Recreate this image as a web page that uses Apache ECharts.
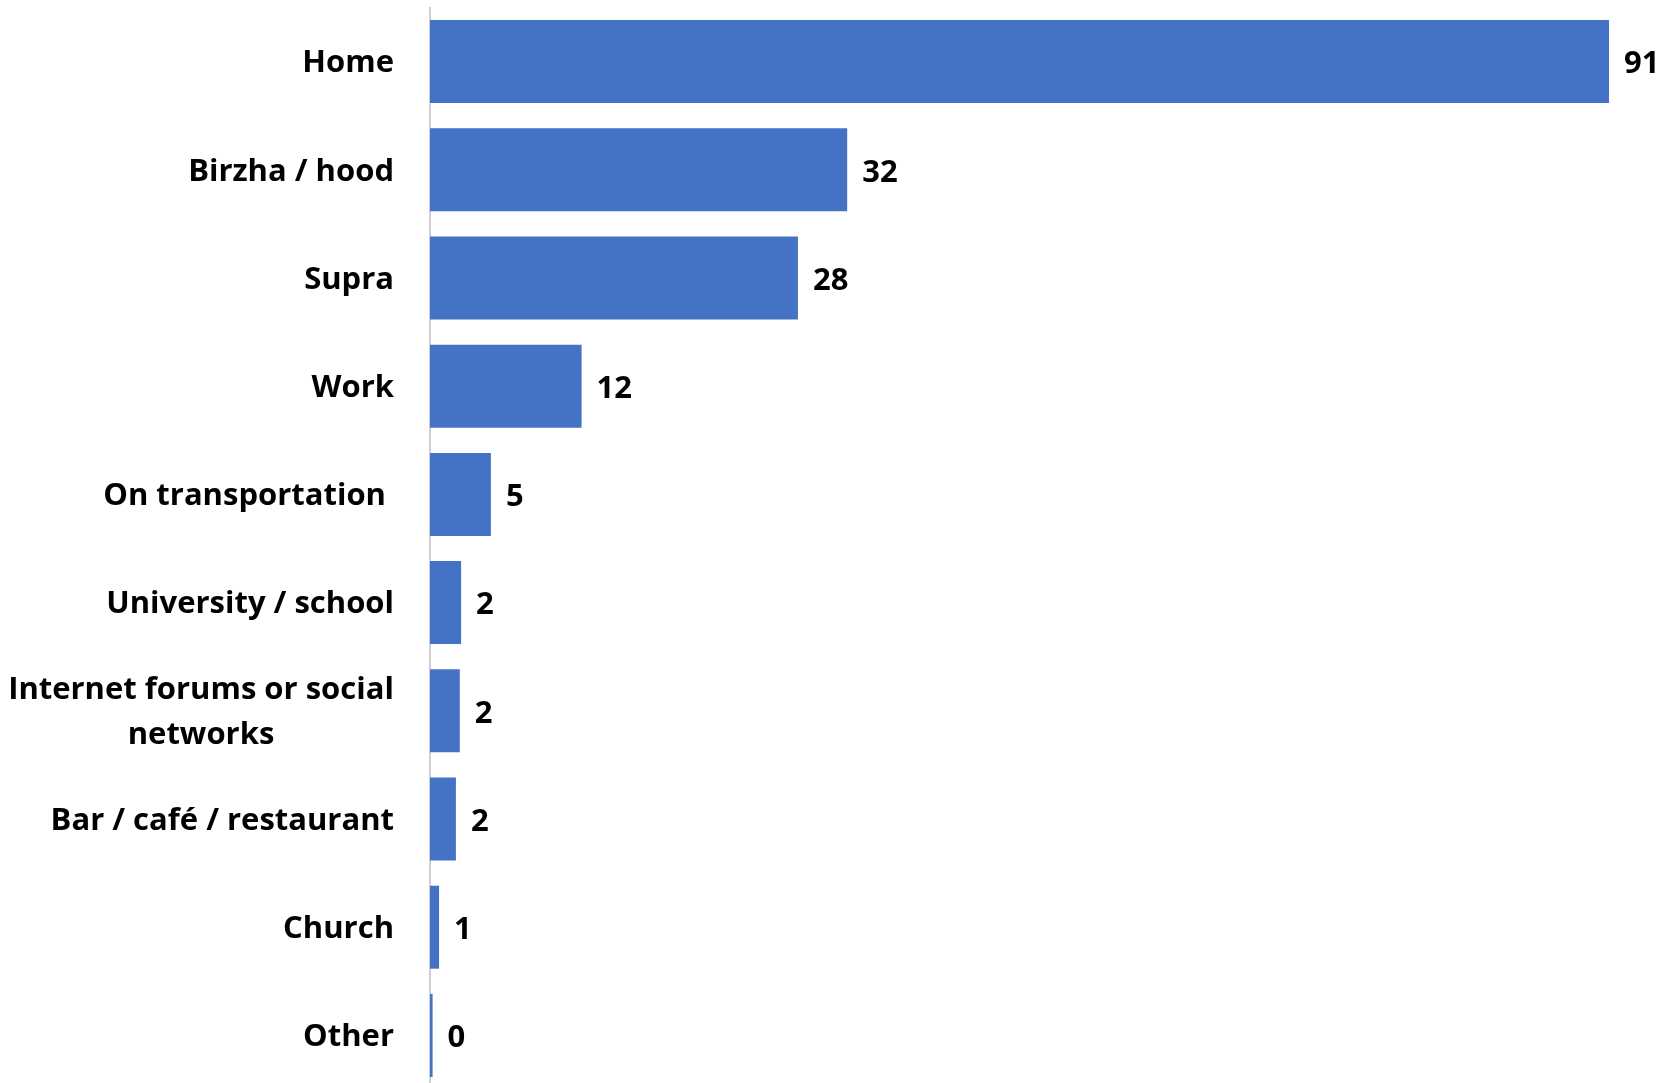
<!DOCTYPE html>
<html>
<head>
<meta charset="utf-8">
<script src="https://cdn.jsdelivr.net/npm/echarts@6/dist/echarts.min.js"></script>
<style>
  html, body { margin: 0; padding: 0; background: #fff; }
  #chart { width: 1666px; height: 1083px; }
</style>
</head>
<body>
<div id="chart"></div>
<script>
// places where people talk (top to bottom)
var places = ['Home', 'Birzha / hood', 'Supra', 'Work', 'On transportation ',
  'University / school', 'Internet forums or social\nnetworks',
  'Bar / café / restaurant', 'Church', 'Other'];
var counts = [91, 32.2, 28.4, 11.7, 4.7, 2.4, 2.3, 2.0, 0.7, 0.2];

var fontFam = '"Open Sans", "Noto Sans", sans-serif';
var fontSz = 31;

// width of the longest line of the wrapped label, so both lines centre on it
var cv = document.createElement('canvas').getContext('2d');
cv.font = 'bold ' + fontSz + 'px ' + fontFam;
var wrapW = Math.ceil(cv.measureText('Internet forums or social').width);

var chartDom = document.getElementById('chart');
var myChart = echarts.init(chartDom);
var option = {
  animation: false,
  grid: {
    left: 430, right: 57, top: 7.5, height: 1082,
    containLabel: false,
    outerBoundsMode: 'none'
  },
  xAxis: {
    type: 'value',
    min: 0,
    max: 91,
    show: false
  },
  yAxis: {
    type: 'category',
    inverse: true,
    data: places,
    axisLine: { show: true, lineStyle: { color: '#bfbfbf', width: 1.5 } },
    axisTick: { show: false },
    axisLabel: {
      margin: 36,
      color: '#000',
      fontFamily: fontFam,
      fontWeight: 'bold',
      fontSize: fontSz,
      lineHeight: 45,
      padding: [4, 0, 0, 0],
      formatter: function (v) {
        if (v.indexOf('\n') >= 0) {
          return v.split('\n').map(function (s) { return '{w|' + s + '}'; }).join('\n');
        }
        return v;
      },
      rich: {
        w: {
          width: wrapW,
          align: 'center',
          color: '#000',
          fontFamily: fontFam,
          fontWeight: 'bold',
          fontSize: fontSz,
          lineHeight: 45
        }
      }
    }
  },
  series: [{
    type: 'bar',
    data: counts,
    barCategoryGap: '23.3%',
    itemStyle: { color: '#4472C4' },
    label: {
      show: true,
      position: 'right',
      distance: 15,
      offset: [0, 3],
      color: '#000',
      fontFamily: fontFam,
      fontWeight: 'bold',
      fontSize: fontSz,
      formatter: function (p) { return Math.round(p.value); }
    }
  }]
};
option && myChart.setOption(option);
</script>
</body>
</html>
